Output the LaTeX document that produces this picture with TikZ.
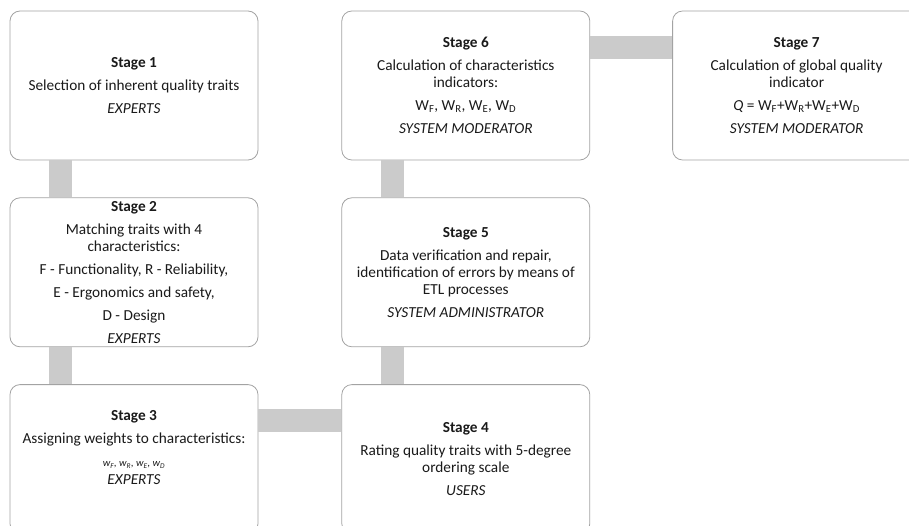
\documentclass[tikz,border=0pt]{standalone}
\usepackage{fontspec}
\setmainfont{Carlito}
\usepackage{tikz}
\usetikzlibrary{positioning}
\definecolor{stBorder}{HTML}{A3A3A3}
\definecolor{stLink}{HTML}{CBCBCB}
\definecolor{stText}{HTML}{1A1A1A}
\tikzset{
  stagebox/.style={
    draw=stBorder, fill=white, rounded corners=10pt, line width=0.8pt,
    minimum width=248pt, minimum height=149pt, inner sep=3pt,
    align=center, text=stText, font=\fontsize{15.3}{17}\selectfont
  },
  link/.style={draw=stLink, line width=23pt}
}

\begin{document}
\begin{tikzpicture}[x=1pt, y=-1pt, node distance=37pt and 82pt]
  \useasboundingbox (0,0) rectangle (909,526);
  % left column
  \node[stagebox] (s1) at (134,85.5) {\textbf{Stage 1}\\[6pt]
    Selection of inherent quality traits\\[6pt]
    \textit{EXPERTS}};
  \node[stagebox, below=of s1] (s2) {\textbf{Stage 2}\\[6pt]
    Matching traits with 4\\characteristics:\\[6pt]
    F - Functionality, R - Reliability,\\[6pt]
    E - Ergonomics and safety,\\[6pt]
    D - Design\\[6pt]
    \textit{EXPERTS}};
  \node[stagebox, below=of s2] (s3) {\textbf{Stage 3}\\[6pt]
    Assigning weights to characteristics:\\[6pt]
    {\fontsize{10.5}{12}\selectfont\textit{w\textsubscript{F}, w\textsubscript{R}, w\textsubscript{E}, w\textsubscript{D}}}\\[1pt]
    \textit{EXPERTS}\\[6pt]\mbox{}};
  % middle column
  \node[stagebox, right=83pt of s3] (s4) {\textbf{Stage 4}\\[6pt]
    Rating quality traits with 5-degree\\ordering scale\\[6pt]
    \textit{USERS}};
  \node[stagebox, above=of s4] (s5) {\textbf{Stage 5}\\[6pt]
    Data verification and repair,\\identification of errors by means of\\ETL processes\\[6pt]
    \textit{SYSTEM ADMINISTRATOR}};
  \node[stagebox, above=of s5] (s6) {\textbf{Stage 6}\\[6pt]
    Calculation of characteristics\\indicators:\\[6pt]
    W\textsubscript{F}, W\textsubscript{R}, W\textsubscript{E}, W\textsubscript{D}\\[6pt]
    \textit{SYSTEM MODERATOR}};
  % right column
  \node[stagebox, right=of s6] (s7) {\textbf{Stage 7}\\[6pt]
    Calculation of global quality\\indicator\\[6pt]
    \textit{Q} = W\textsubscript{F}+W\textsubscript{R}+W\textsubscript{E}+W\textsubscript{D}\\[6pt]
    \textit{SYSTEM MODERATOR}};
  % links
  \draw[link] ([xshift=-73.5pt]s1.south) -- ([xshift=-73.5pt]s2.north);
  \draw[link] ([xshift=-73.5pt]s2.south) -- ([xshift=-73.5pt]s3.north);
  \draw[link] ([yshift=38.5pt]s3.east) -- ([yshift=38.5pt]s4.west);
  \draw[link] ([xshift=-73.5pt]s4.north) -- ([xshift=-73.5pt]s5.south);
  \draw[link] ([xshift=-73.5pt]s5.north) -- ([xshift=-73.5pt]s6.south);
  \draw[link] ([yshift=37.5pt]s6.east) -- ([yshift=37.5pt]s7.west);
\end{tikzpicture}
\end{document}
